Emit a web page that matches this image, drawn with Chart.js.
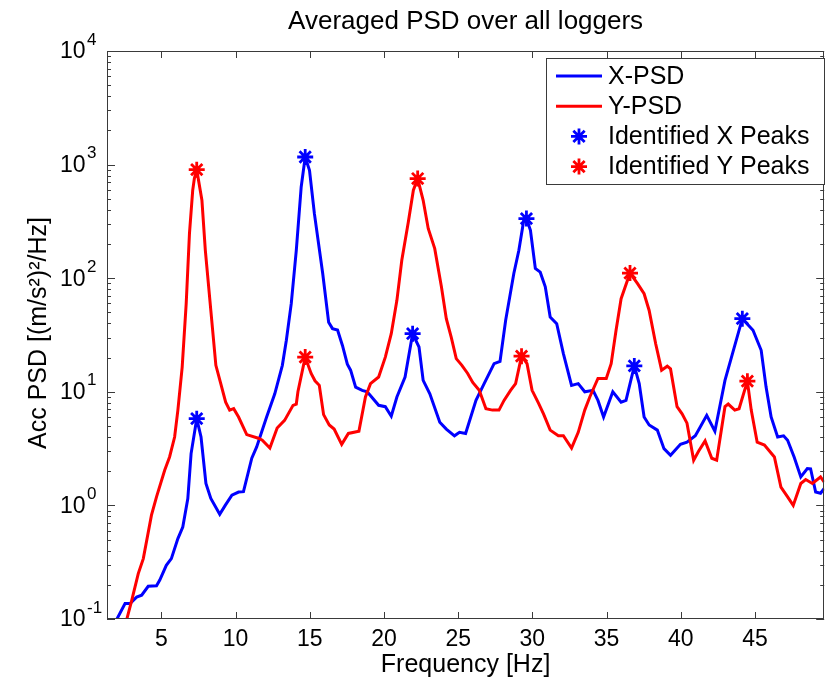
<!DOCTYPE html>
<html>
<head>
<meta charset="utf-8">
<title>Averaged PSD over all loggers</title>
<script src="https://cdn.jsdelivr.net/npm/chart.js@4.4.1/dist/chart.umd.min.js"></script>
<style>
  html, body { margin: 0; padding: 0; background: #fff; }
  canvas { display: block; }
</style>
</head>
<body>
<canvas id="psdChart" width="835" height="678"></canvas>
<script>
// averaged PSD, X direction: frequency [Hz] and level [(m/s^2)^2/Hz]
var xFreq = [1.85, 2.0, 2.55, 2.89, 3.33, 3.67, 4.11, 4.67, 4.89, 5.33, 5.67, 6.11, 6.44, 6.78, 7.0, 7.29, 7.38,
  7.67, 8.0, 8.33, 8.93, 9.3, 9.75, 10.2, 10.53, 11.09, 11.42, 12.09, 12.64, 13.15, 13.42, 13.75, 14.09, 14.42,
  14.69, 14.98, 15.31, 15.87, 16.27, 16.53, 16.87, 17.2, 17.53, 17.75, 18.09, 18.53, 18.87, 19.64, 20.09, 20.49,
  20.87, 21.42, 21.93, 22.36, 22.64, 23.09, 23.76, 24.2, 24.75, 25.09, 25.5, 26.2, 26.75, 27.42, 27.82, 28.2,
  28.75, 29.09, 29.42, 29.6, 29.87, 30.2, 30.53, 30.87, 31.2, 31.64, 32.09, 32.64, 33.09, 33.53, 34.09, 34.42,
  34.8, 35.42, 35.98, 36.31, 36.87, 37.2, 37.53, 37.87, 38.42, 38.87, 39.31, 39.98, 40.42, 40.98, 41.2, 41.75,
  42.3, 42.98, 43.42, 44.15, 44.87, 45.42, 45.75, 46.09, 46.53, 46.93, 47.2, 47.64, 48.09, 48.53, 48.75, 49.09,
  49.42, 49.67];
var xPsd = [0.085, 0.1, 0.137, 0.137, 0.156, 0.162, 0.194, 0.196, 0.22, 0.297, 0.34, 0.51, 0.646, 1.15, 2.86, 4.9, 5.8,
  4.0, 1.56, 1.15, 0.835, 1.0, 1.23, 1.31, 1.32, 2.6, 3.27, 6.0, 9.6, 17.1, 28.4, 59.7, 176, 636,
  1167, 891, 370, 110, 41, 36, 35, 25.6, 17.5, 15.5, 11.0, 10.3, 10.0, 7.6, 7.4, 6.1,
  9.0, 13.5, 32.5, 24.8, 12.6, 9.6, 5.4, 4.7, 4.1, 4.4, 4.3, 8.4, 11.8, 17.7, 18.5, 42.6,
  110, 176, 324, 335, 264, 122, 113, 84, 45.5, 39.8, 21.7, 11.4, 11.8, 10.0, 10.3, 8.4,
  6.0, 10.0, 8.1, 8.4, 16.9, 11.8, 6.0, 5.1, 4.6, 3.16, 2.76, 3.45, 3.6, 4.1, 4.6, 6.2,
  4.5, 12.6, 20.2, 44, 34.8, 23.2, 11.0, 6.0, 4.0, 4.1, 3.74, 2.67, 1.78, 2.11, 2.1, 1.31,
  1.28, 1.41];

// averaged PSD, Y direction
var yFreq = [2.6, 2.67, 3.0, 3.44, 3.78, 4.33, 4.67, 5.22, 5.55, 5.89, 6.11, 6.4, 6.67, 6.89, 7.11, 7.22, 7.38,
  7.73, 7.96, 8.33, 8.67, 9.0, 9.33, 9.6, 9.87, 10.2, 10.75, 11.53, 11.8, 12.31, 12.8, 13.3, 13.87, 14.09, 14.2,
  14.69, 15.09, 15.35, 15.64, 15.93, 16.31, 16.64, 17.15, 17.6, 18.31, 18.75, 19.09, 19.64, 20.09, 20.49, 20.87,
  21.2, 21.64, 21.98, 22.27, 22.64, 22.98, 23.42, 23.87, 24.2, 24.53, 24.87, 25.25, 25.64, 25.98, 26.42, 26.87,
  27.31, 27.75, 28.09, 28.53, 28.87, 29.27, 29.64, 29.98, 30.42, 30.75, 31.2, 31.75, 32.09, 32.64, 33.09, 33.53,
  33.87, 34.42, 34.98, 35.31, 35.64, 35.98, 36.58, 37.09, 37.53, 37.87, 38.31, 38.71, 39.09, 39.31, 39.75, 40.09,
  40.42, 40.87, 41.2, 41.64, 42.09, 42.42, 42.98, 43.2, 43.64, 43.93, 44.49, 44.75, 45.15, 45.64, 46.31, 46.75,
  47.2, 47.58, 48.09, 48.42, 48.87, 49.42, 49.67];
var yPsd = [0.09, 0.1, 0.146, 0.251, 0.34, 0.82, 1.19, 2.04, 2.67, 4.0, 6.9, 16.5, 59.7, 247, 595, 754, 903,
  485, 176, 52, 17.1, 11.8, 8.1, 6.9, 7.1, 6.0, 4.2, 3.9, 3.75, 3.2, 4.8, 5.6, 7.6, 7.8, 10.0,
  20.2, 14.5, 12.5, 11.4, 6.3, 5.1, 4.7, 3.45, 4.3, 4.5, 9.0, 11.8, 13.5, 20.2, 32.5, 63.8,
  144, 313, 595, 754, 485, 274, 182, 84, 44, 30.3, 19.6, 17.1, 14.5, 12.1, 10.3, 7.1,
  6.9, 6.9, 8.4, 10.3, 11.8, 20.6, 17.7, 10.3, 7.9, 6.4, 4.6, 4.1, 4.1, 3.2, 4.4, 6.9,
  9.0, 13.1, 13.1, 17.7, 34.8, 66, 111, 89.5, 73, 52, 26.5, 15.5, 16.8, 15.9, 7.4, 6.4,
  5.3, 2.5, 3.0, 3.7, 2.6, 2.5, 7.4, 7.8, 6.9, 7.1, 12.4, 6.9, 3.6, 3.4, 2.67, 1.45,
  1.19, 1.0, 1.56, 1.69, 1.56, 1.78, 1.6];

// picked peaks
var xPeakFreq = [7.38, 14.69, 21.93, 29.6, 36.87, 44.15];
var xPeakPsd = [5.8, 1167, 32.5, 335, 16.9, 44];
var yPeakFreq = [7.38, 14.69, 22.27, 29.27, 36.58, 44.49];
var yPeakPsd = [903, 20.2, 754, 20.6, 111, 12.4];

var freqTicks = [5, 10, 15, 20, 25, 30, 35, 40, 45];
var decadeExps = [-1, 0, 1, 2, 3, 4];

var FONT = "'Liberation Sans', Arial, Helvetica, sans-serif";
var BLUE = '#0000ff';
var RED = '#ff0000';
var AXIS = '#3a3a3a';

function toPoints(fs, vs) {
  return fs.map(function (f, i) { return { x: f, y: vs[i] }; });
}

function drawStar(ctx, x, y, r, color) {
  var d = r * Math.SQRT1_2;
  ctx.save();
  ctx.strokeStyle = color;
  ctx.lineWidth = 2.8;
  ctx.beginPath();
  ctx.moveTo(x - r, y); ctx.lineTo(x + r, y);
  ctx.moveTo(x, y - r); ctx.lineTo(x, y + r);
  ctx.moveTo(x - d, y - d); ctx.lineTo(x + d, y + d);
  ctx.moveTo(x - d, y + d); ctx.lineTo(x + d, y - d);
  ctx.stroke();
  ctx.restore();
}

// box, inward ticks, labels, titles and legend in the old matlab look
var matlabFrame = {
  id: 'matlabFrame',
  afterDraw: function (chart) {
    var ctx = chart.ctx;
    var a = chart.chartArea;
    var xs = chart.scales.x, ys = chart.scales.y;
    var cx = (a.left + a.right) / 2;

    ctx.save();
    ctx.strokeStyle = AXIS;
    ctx.lineWidth = 1;
    ctx.strokeRect(Math.round(a.left) + 0.5, Math.round(a.top) + 0.5,
      Math.round(a.right - a.left) - 1, Math.round(a.bottom - a.top) - 1);

    ctx.beginPath();
    freqTicks.forEach(function (f) {
      var px = Math.round(xs.getPixelForValue(f)) + 0.5;
      ctx.moveTo(px, a.bottom); ctx.lineTo(px, a.bottom - 7);
      ctx.moveTo(px, a.top); ctx.lineTo(px, a.top + 7);
    });
    decadeExps.forEach(function (e) {
      var py = Math.round(ys.getPixelForValue(Math.pow(10, e))) + 0.5;
      ctx.moveTo(a.left, py); ctx.lineTo(a.left + 8, py);
      ctx.moveTo(a.right, py); ctx.lineTo(a.right - 8, py);
      if (e < 4) {
        for (var m = 2; m <= 9; m++) {
          var pm = Math.round(ys.getPixelForValue(m * Math.pow(10, e))) + 0.5;
          ctx.moveTo(a.left, pm); ctx.lineTo(a.left + 4, pm);
          ctx.moveTo(a.right, pm); ctx.lineTo(a.right - 4, pm);
        }
      }
    });
    ctx.stroke();

    ctx.fillStyle = '#000';
    ctx.textBaseline = 'middle';

    // x tick labels
    ctx.font = '23px ' + FONT;
    ctx.textAlign = 'center';
    freqTicks.forEach(function (f) {
      ctx.fillText(String(f), xs.getPixelForValue(f), a.bottom + 21);
    });

    // y tick labels 10^n
    ctx.textAlign = 'left';
    decadeExps.forEach(function (e) {
      var py = ys.getPixelForValue(Math.pow(10, e));
      ctx.font = '23px ' + FONT;
      ctx.fillText('10', 60, py + 1);
      ctx.font = '17px ' + FONT;
      ctx.fillText(String(e), 87, py - 11);
    });

    // titles
    ctx.textAlign = 'center';
    ctx.font = '26px ' + FONT;
    ctx.fillText('Averaged PSD over all loggers', cx, 22);
    ctx.font = '25px ' + FONT;
    ctx.fillText('Frequency [Hz]', cx, 665);
    ctx.save();
    ctx.translate(39, (a.top + a.bottom) / 2 - 2);
    ctx.rotate(-Math.PI / 2);
    ctx.fillText('Acc PSD [(m/s\u00b2)\u00b2/Hz]', 0, 0);
    ctx.restore();

    // legend
    var lx = 546, ly = 58, lw = 278, lh = 126;
    ctx.fillStyle = '#fff';
    ctx.fillRect(lx, ly, lw, lh);
    ctx.strokeStyle = AXIS;
    ctx.lineWidth = 1;
    ctx.strokeRect(lx + 0.5, ly + 0.5, lw, lh);

    var rows = chart.data.datasets;
    ctx.font = '25px ' + FONT;
    ctx.textAlign = 'left';
    rows.forEach(function (ds, i) {
      var ry = 76 + i * 30.2;
      if (ds.showLine === false) {
        drawStar(ctx, 579, ry, 8, ds.borderColor);
      } else {
        ctx.strokeStyle = ds.borderColor;
        ctx.lineWidth = 3;
        ctx.beginPath();
        ctx.moveTo(556, ry); ctx.lineTo(602, ry);
        ctx.stroke();
      }
      ctx.fillStyle = '#000';
      ctx.fillText(ds.label, 608, ry + 1);
    });
    ctx.restore();
  }
};

new Chart(document.getElementById('psdChart'), {
  type: 'line',
  data: {
    datasets: [
      {
        label: 'X-PSD',
        data: toPoints(xFreq, xPsd),
        borderColor: BLUE,
        borderWidth: 3,
        pointRadius: 0,
        tension: 0,
        order: 3
      },
      {
        label: 'Y-PSD',
        data: toPoints(yFreq, yPsd),
        borderColor: RED,
        borderWidth: 3,
        pointRadius: 0,
        tension: 0,
        order: 2
      },
      {
        label: 'Identified X Peaks',
        data: toPoints(xPeakFreq, xPeakPsd),
        showLine: false,
        borderColor: BLUE,
        backgroundColor: BLUE,
        pointStyle: 'star',
        pointRadius: 8,
        pointBorderWidth: 2.8,
        order: 1
      },
      {
        label: 'Identified Y Peaks',
        data: toPoints(yPeakFreq, yPeakPsd),
        showLine: false,
        borderColor: RED,
        backgroundColor: RED,
        pointStyle: 'star',
        pointRadius: 8,
        pointBorderWidth: 2.8,
        order: 0
      }
    ]
  },
  options: {
    responsive: false,
    devicePixelRatio: 1,
    animation: false,
    events: [],
    layout: { padding: { top: 51, right: 3, left: 0, bottom: 0 } },
    plugins: {
      legend: { display: false },
      title: { display: false },
      tooltip: { enabled: false }
    },
    scales: {
      x: {
        type: 'linear',
        min: 1.333,
        max: 49.667,
        grid: { display: false, drawTicks: false },
        border: { display: false },
        ticks: { display: false, stepSize: 5, includeBounds: false },
        afterFit: function (scale) { scale.height = 59; }
      },
      y: {
        type: 'logarithmic',
        min: 0.1,
        max: 10000,
        grid: { display: false, drawTicks: false },
        border: { display: false },
        ticks: { display: false },
        afterFit: function (scale) { scale.width = 107; }
      }
    }
  },
  plugins: [matlabFrame]
});
</script>
</body>
</html>
